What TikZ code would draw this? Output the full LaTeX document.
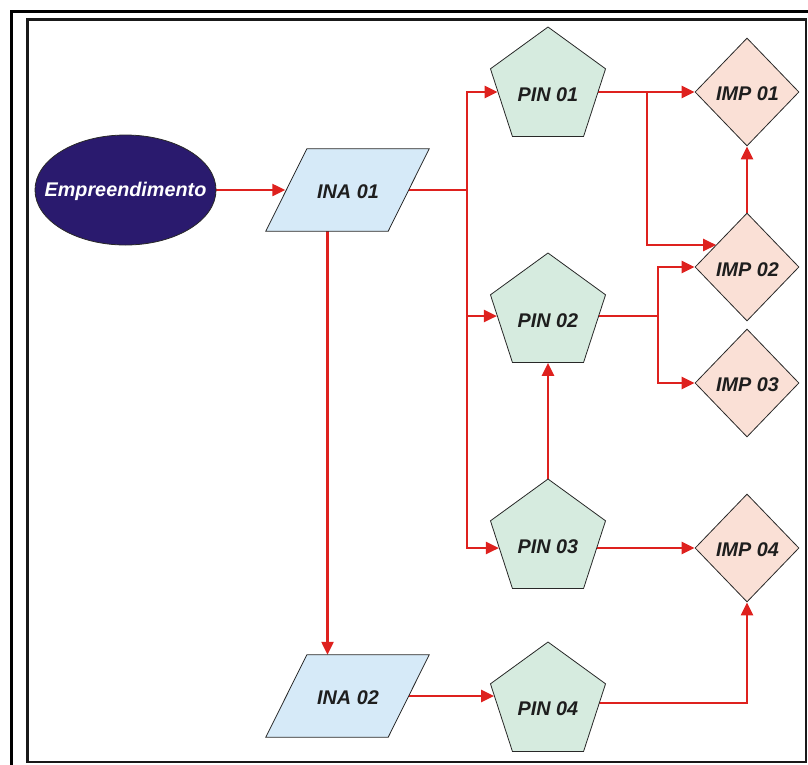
\documentclass[tikz,border=0pt]{standalone}
\usepackage{fontspec}
\setmainfont{Liberation Sans}
\usetikzlibrary{shapes.geometric,arrows.meta,calc,backgrounds}
\definecolor{arrred}{RGB}{222,33,30}
\definecolor{empfill}{RGB}{42,26,110}
\definecolor{inafill}{RGB}{214,234,248}
\definecolor{pinfill}{RGB}{214,235,223}
\definecolor{impfill}{RGB}{250,224,214}
\definecolor{outl}{RGB}{40,40,40}
\definecolor{txt}{RGB}{30,30,30}
\begin{document}
\begin{tikzpicture}[x=1pt,y=-1pt,
  conn/.style={draw=arrred, line width=2.3pt},
  arr/.style={conn, -{Triangle[length=13pt,width=12pt]}},
  shapeline/.style={draw=outl, line width=0.8pt},
  empbox/.style={ellipse, shapeline, fill=empfill, minimum width=181pt, minimum height=110pt, inner sep=0pt},
  inabox/.style={rectangle, minimum width=122pt, minimum height=82pt, inner sep=0pt},
  pentbox/.style={regular polygon, regular polygon sides=5, minimum size=121pt, inner sep=0pt, shapeline, fill=pinfill},
  impbox/.style={diamond, minimum width=104pt, minimum height=108pt, inner sep=0pt, shapeline, fill=impfill},
  lbl/.style={anchor=base, inner sep=0pt, text=txt, font=\fontsize{19.8}{23}\selectfont\bfseries\itshape},
  emplbl/.style={lbl, text=white}
]
\useasboundingbox (0,0) rectangle (808,764);
\begin{scope}
  \clip (0,0) rectangle (808,764);
  \draw[line width=3pt, black] (11.5,11.5) rectangle (840,800);
  \draw[line width=2.2pt, black!90] (27.5,19.5) rectangle (806,762);
\end{scope}

% shapes
\node[empbox] (emp) at (125.5,190) {};
\node[inabox] (ina1) at (347.5,190) {};
\node[inabox] (ina2) at (347.5,696) {};
\foreach \n in {ina1,ina2}{
  \draw[shapeline, fill=inafill] ($(\n.south west)+(-20.5,0)$) -- ($(\n.south east)+(-20.5,0)$)
     -- ($(\n.north east)+(20.5,0)$) -- ($(\n.north west)+(20.5,0)$) -- cycle;
}
\node[pentbox] (pin1) at (548,87.5) {};
\node[pentbox] (pin2) at (548,313.5) {};
\node[pentbox] (pin3) at (548,539.5) {};
\node[pentbox] (pin4) at (548,702.5) {};
\node[impbox] (imp1) at (747,92) {};
\node[impbox] (imp2) at (747,267) {};
\node[impbox] (imp3) at (747,383) {};
\node[impbox] (imp4) at (747,548) {};

% labels
\node[emplbl] (temp) at ($(emp.center)+(0,6)$) {Empreendimento};
\node[lbl] (tina1) at ($(ina1.center)+(0.5,8.3)$) {INA 01};
\node[lbl] (tina2) at ($(ina2.center)+(0.5,8)$) {INA 02};
\node[lbl] (tpin1) at ($(pin1.center)+(0,13.5)$) {PIN 01};
\node[lbl] (tpin2) at ($(pin2.center)+(0,13.8)$) {PIN 02};
\node[lbl] (tpin3) at ($(pin3.center)+(0,13.8)$) {PIN 03};
\node[lbl] (tpin4) at ($(pin4.center)+(0,13.2)$) {PIN 04};
\node[lbl] (timp1) at ($(imp1.center)+(0.5,8)$) {IMP 01};
\node[lbl] (timp2) at ($(imp2.center)+(0.5,9)$) {IMP 02};
\node[lbl] (timp3) at ($(imp3.center)+(0.5,8.7)$) {IMP 03};
\node[lbl] (timp4) at ($(imp4.center)+(0.5,8.7)$) {IMP 04};

% connectors
\begin{scope}[on background layer]
  \coordinate (i1in) at ($(ina1.west)+(-1,0)$);
  \draw[arr] (emp) -- (i1in);
  \coordinate (j1) at (467,190);
  \draw[conn] (ina1) -- (j1);
  \coordinate (p1in) at ($(pin1.west)+(1.5,4.5)$);
  \coordinate (p2in) at ($(pin2.west)+(0.8,2.5)$);
  \coordinate (p3in) at ($(pin3.west)+(2.8,8.5)$);
  \draw[arr] (j1) |- (p1in);
  \draw[arr] (j1) |- (p2in);
  \draw[arr] (j1) |- (p3in);
  \coordinate (k1) at (647,92);
  \draw[arr] ($(pin1.center)+(0,4.5)$) -- (imp1);
  \coordinate (i2in) at ($(imp2.center)+(-30.8,-22)$);
  \draw[arr] (k1) |- (i2in);
  \draw[arr] (imp2) -- (imp1);
  \coordinate (k2) at (658,316);
  \draw[conn] ($(pin2.center)+(0,2.5)$) -- (k2);
  \draw[arr] (k2) |- (imp2);
  \draw[arr, line width=2.8pt] (k2) |- (imp3);
  \draw[arr] (pin3) -- (pin2);
  \draw[arr, line width=2.8pt] ($(pin3.center)+(0,8.5)$) -- (imp4);
  \coordinate (ina1b) at ($(ina1.south)+(-20,0)$);
  \coordinate (ina2t) at ($(ina2.north)+(-20,0)$);
  \draw[arr] (ina1b) -- (ina2t);
  \coordinate (p4in) at ($(pin4.west)+(-2,0)$);
  \draw[arr] (ina2) -- (ina2 -| p4in);
  \draw[arr] ($(pin4.center)+(0,0.5)$) -| (imp4);
\end{scope}
\end{tikzpicture}
\end{document}
